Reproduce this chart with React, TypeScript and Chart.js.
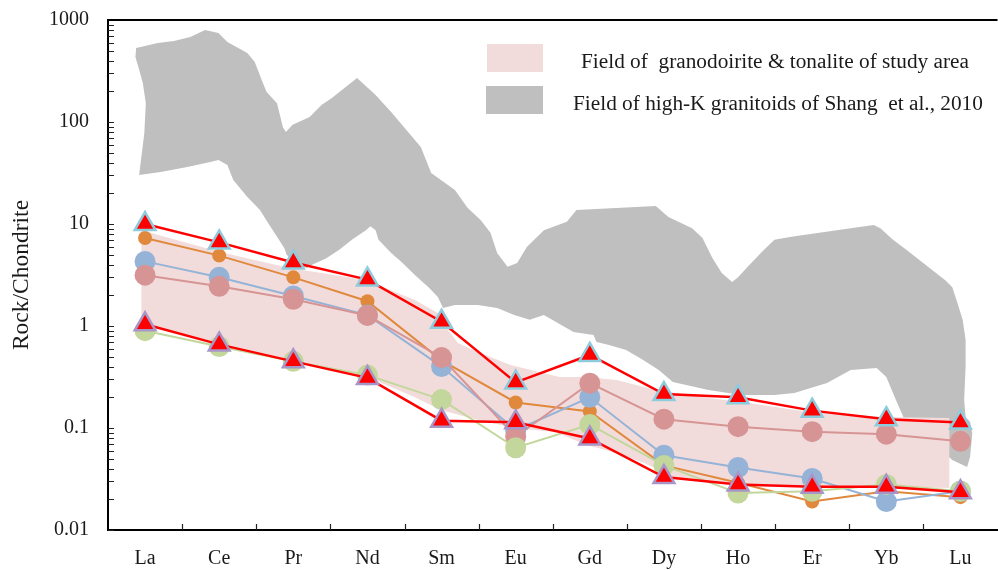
import React, { useEffect, useRef } from 'react';
import { Chart, registerables } from 'chart.js';

Chart.register(...registerables);

// REE spider diagram, chondrite-normalised
const elements = ['La', 'Ce', 'Pr', 'Nd', 'Sm', 'Eu', 'Gd', 'Dy', 'Ho', 'Er', 'Yb', 'Lu'];
const yTickValues = [0.01, 0.1, 1, 10, 100, 1000];
const yTickLabels = ['0.01', '0.1', '1', '10', '100', '1000'];
const legendLabels = [
  'Field of  granodoirite & tonalite of study area',
  'Field of high-K granitoids of Shang  et al., 2010',
];

// upper / lower envelope samples (triangles)
const upperSample = [10, 6.6, 4.2, 2.85, 1.1, 0.28, 0.52, 0.215, 0.2, 0.148, 0.122, 0.113];
const lowerSample = [1.04, 0.66, 0.45, 0.31, 0.118, 0.114, 0.079, 0.033, 0.028, 0.0265, 0.0265, 0.0235];
// individual samples (circles)
const orangeSample = [7.3, 4.9, 3.0, 1.75, 0.46, 0.178, 0.145, 0.043, 0.029, 0.019, 0.024, 0.021];
const blueSample = [4.3, 3.0, 1.97, 1.28, 0.4, 0.095, 0.2, 0.054, 0.041, 0.032, 0.019, 0.024];
const roseSample = [3.15, 2.45, 1.83, 1.27, 0.49, 0.082, 0.275, 0.122, 0.103, 0.092, 0.087, 0.074];
const greenSample = [0.9, 0.63, 0.45, 0.33, 0.19, 0.064, 0.108, 0.043, 0.023, 0.024, 0.028, 0.024];

// outline of the high-K granitoid field (element position, normalised value)
const highKFieldIdx = [
  -0.12, 0.17, 0.39, 0.61, 0.81, 0.99, 1.11, 1.38, 1.48, 1.59, 1.64, 1.78, 1.86, 1.9, 1.99, 2.22,
  2.38, 2.52, 2.86, 3.11, 3.32, 3.72, 3.86, 4.18, 4.35, 4.53, 4.66, 4.75, 4.89, 5.02, 5.15, 5.38,
  5.69, 5.82, 6.89, 7.06, 7.38, 7.52, 7.65, 7.78, 7.92, 8.0, 8.13, 8.32, 8.49, 8.72, 9.33, 9.83,
  9.92, 10.09, 10.27, 10.45, 10.8, 10.89, 10.96, 11.03, 11.07, 11.07, 11.05, 11.07, 11.13, 11.16,
  11.13, 11.09,
  10.89, 10.23, 10.13, 10.0, 9.87, 9.52, 9.2, 8.76, 8.49, 8.05, 7.6, 7.12, 6.93, 6.72, 6.49, 6.26,
  6.09, 6.05, 5.78, 5.38, 5.19, 4.98, 4.75, 4.49, 4.18, 4.02, 3.95, 3.82, 3.64, 3.46, 3.32, 3.15,
  3.11, 3.04, 2.98, 2.79, 2.62, 2.44, 2.26, 2.18, 1.99, 1.91, 1.88, 1.78, 1.66, 1.55, 1.38, 1.19,
  1.11, 0.99, 0.88, 0.57, 0.21, -0.08,
  -0.01, 0.01, -0.03, -0.09, -0.13, -0.12,
];
const highKFieldVal = [
  531, 596, 622, 681, 798, 747, 608, 474, 387, 241, 197, 153, 89, 80, 94, 112,
  147, 172, 270, 184, 125, 57, 31.6, 21.5, 14.4, 10.9, 8.2, 5.2, 3.8, 4.15, 5.96, 8.7,
  10.5, 13.7, 15.0, 11.7, 9.1, 7.3, 4.7, 3.3, 2.7, 3.0, 3.8, 5.3, 7.0, 7.5, 8.7, 9.8,
  9.1, 7.0, 5.6, 4.4, 2.8, 2.4, 1.68, 1.15, 0.73, 0.4, 0.188, 0.128, 0.115, 0.089,
  0.052, 0.0415,
  0.0485, 0.128, 0.188, 0.316, 0.387, 0.37, 0.276, 0.22, 0.211, 0.211, 0.236, 0.283, 0.37, 0.464, 0.582, 0.652,
  0.697, 0.817, 0.873, 1.28, 1.15, 1.28, 1.5, 1.61, 1.61, 1.5, 1.92, 2.41, 3.16, 4.24, 5.2, 7.0,
  8.7, 9.5, 8.7, 7.0, 5.6, 4.6, 4.0, 3.7, 4.4, 5.0, 5.8, 7.5, 10.2, 13.7, 18.4, 27,
  37.8, 42.4, 40.5, 36.2, 32.4, 30.2,
  78, 153, 241, 346, 434, 531,
];

// outline of the study-area granodiorite & tonalite field
const studyFieldIdx = [
  -0.05, 1.01, 1.95, 2.98, 3.64, 3.95, 4.02, 4.22, 4.49, 4.93, 5.59, 5.95, 6.36, 6.89, 7.6, 8.05,
  8.93, 9.99, 10.85, 10.85, 9.99, 8.93, 8.05, 7.16, 6.72, 6.22, 5.95, 5.55, 4.99, 4.49, 3.99, 3.64,
  3.19, 2.98, 2.0, 1.01, 0.0, -0.05, -0.05,
];
const studyFieldVal = [
  8.7, 5.3, 3.7, 2.83, 1.8, 1.34, 1.07, 0.68, 0.556, 0.415, 0.316, 0.316, 0.296, 0.236, 0.197, 0.18,
  0.144, 0.128, 0.125, 0.0258, 0.0264, 0.027, 0.0283, 0.0324, 0.046, 0.061, 0.068, 0.091, 0.1, 0.12, 0.15, 0.2,
  0.276, 0.33, 0.46, 0.68, 1.02, 1.07, 8.7,
];

const HIGHK_FILL = '#bfbfbf';
const STUDY_FILL = '#f2dcdb';
const SERIF = '"Liberation Serif", "Times New Roman", serif';

const toPoints = (xs: number[], ys: number[]) => xs.map((x, i) => ({ x, y: ys[i] }));
const toSeries = (ys: number[]) => ys.map((y, i) => ({ x: i, y }));

const fieldDataset = (label: string, xs: number[], ys: number[], color: string, order: number) => ({
  label,
  data: toPoints(xs, ys),
  showLine: true,
  fill: 'shape',
  backgroundColor: color,
  borderColor: 'rgba(0,0,0,0)',
  borderWidth: 0,
  pointRadius: 0,
  tension: 0,
  order,
});

const circleDataset = (label: string, ys: number[], color: string, radius: number, order: number) => ({
  label,
  data: toSeries(ys),
  showLine: true,
  borderColor: color,
  borderWidth: 2,
  backgroundColor: color,
  pointBackgroundColor: color,
  pointBorderColor: color,
  pointBorderWidth: 0,
  pointRadius: radius,
  pointStyle: 'circle',
  fill: false,
  tension: 0,
  order,
});

const triangleDataset = (label: string, ys: number[], edge: string, order: number) => ({
  label,
  data: toSeries(ys),
  showLine: true,
  borderColor: '#ff0000',
  borderWidth: 2.5,
  backgroundColor: '#ff0000',
  pointBackgroundColor: '#ff0000',
  pointBorderColor: edge,
  pointBorderWidth: 2.5,
  pointRadius: 12,
  pointStyle: 'triangle',
  fill: false,
  tension: 0,
  order,
});

// inward minor ticks, category separators and top frame line
const frameTicks = {
  id: 'frameTicks',
  afterDraw(chart: any) {
    const { ctx, chartArea: a, scales } = chart;
    const x = scales.x;
    const y = scales.y;
    ctx.save();
    ctx.strokeStyle = '#000';
    ctx.lineWidth = 2;
    ctx.beginPath();
    ctx.moveTo(a.left - 1, a.top);
    ctx.lineTo(a.right, a.top);
    ctx.stroke();
    ctx.lineWidth = 1.2;
    ctx.strokeStyle = '#222';
    ctx.beginPath();
    for (let i = 0; i < elements.length - 1; i++) {
      const px = Math.round(x.getPixelForValue(i + 0.5)) + 0.5;
      ctx.moveTo(px, a.bottom);
      ctx.lineTo(px, a.bottom - 6);
    }
    for (let e = -2; e <= 2; e++) {
      for (let m = 1; m <= 9; m++) {
        const py = Math.round(y.getPixelForValue(m * Math.pow(10, e))) + 0.5;
        ctx.moveTo(a.left, py);
        ctx.lineTo(a.left + 6, py);
      }
    }
    ctx.stroke();
    ctx.restore();
  },
};

// legend for the two shaded fields
const fieldLegend = {
  id: 'fieldLegend',
  afterDraw(chart: any) {
    const { ctx } = chart;
    ctx.save();
    ctx.fillStyle = STUDY_FILL;
    ctx.fillRect(487, 44, 56, 28);
    ctx.fillStyle = HIGHK_FILL;
    ctx.fillRect(486, 86, 57, 28);
    ctx.fillStyle = '#1a1a1a';
    ctx.font = `21.3px ${SERIF}`;
    ctx.textAlign = 'left';
    ctx.textBaseline = 'alphabetic';
    ctx.fillText(legendLabels[0], 581, 68);
    ctx.fillText(legendLabels[1], 573, 110);
    ctx.restore();
  },
};

export default function App() {
  const canvasRef = useRef<HTMLCanvasElement | null>(null);

  useEffect(() => {
    const canvas = canvasRef.current;
    if (!canvas) return;
    const chart = new Chart(canvas, {
      type: 'scatter',
      data: {
        datasets: [
          triangleDataset('upper', upperSample, '#8ecbdc', 1),
          triangleDataset('lower', lowerSample, '#a996c8', 2),
          circleDataset('green', greenSample, '#c3d69b', 10.5, 3),
          circleDataset('rose', roseSample, '#d69594', 10.5, 4),
          circleDataset('blue', blueSample, '#95b3d7', 10.5, 5),
          circleDataset('orange', orangeSample, '#e0883c', 7, 6),
          fieldDataset('study field', studyFieldIdx, studyFieldVal, STUDY_FILL, 9),
          fieldDataset('high-K field', highKFieldIdx, highKFieldVal, HIGHK_FILL, 10),
        ] as any,
      },
      options: {
        animation: false,
        responsive: false,
        devicePixelRatio: 1,
        layout: { padding: { top: 20, right: 5, left: 0, bottom: 0 } },
        plugins: {
          legend: { display: false },
          tooltip: { enabled: false },
        },
        scales: {
          x: {
            type: 'linear',
            min: -0.5,
            max: 11.5,
            afterFit: (scale: any) => {
              scale.height = 40;
              scale.paddingLeft = 0;
              scale.paddingRight = 0;
            },
            afterBuildTicks: (scale: any) => {
              scale.ticks = elements.map((_, i) => ({ value: i }));
            },
            grid: { display: false, drawTicks: false },
            border: { display: true, color: '#000', width: 2 },
            ticks: {
              autoSkip: false,
              maxRotation: 0,
              padding: 17,
              color: '#1a1a1a',
              font: { family: SERIF, size: 20 },
              callback: (v: any) => elements[Math.round(Number(v))] ?? '',
            },
          },
          y: {
            type: 'logarithmic',
            min: 0.01,
            max: 1000,
            afterFit: (scale: any) => {
              scale.width = 108;
              scale.paddingTop = 0;
              scale.paddingBottom = 0;
            },
            afterBuildTicks: (scale: any) => {
              scale.ticks = yTickValues.map((value) => ({ value }));
            },
            grid: { display: false, drawTicks: false },
            border: { display: true, color: '#000', width: 2 },
            ticks: {
              padding: 19,
              color: '#1a1a1a',
              font: { family: SERIF, size: 20 },
              callback: (v: any) => {
                const i = yTickValues.findIndex((t) => Math.abs(t - Number(v)) / t < 1e-6);
                return i >= 0 ? yTickLabels[i] : '';
              },
            },
            title: {
              display: true,
              text: 'Rock/Chondrite',
              color: '#1a1a1a',
              font: { family: SERIF, size: 23.5 },
              padding: { top: 8, bottom: 0 },
            },
          },
        },
      },
      plugins: [frameTicks, fieldLegend],
    });
    return () => chart.destroy();
  }, []);

  return (
    <div
      style={{
        position: 'absolute',
        left: 0,
        top: 0,
        width: 998,
        height: 570,
        overflow: 'hidden',
        background: '#fff',
      }}
    >
      <canvas ref={canvasRef} width={1012} height={570} style={{ display: 'block' }} />
    </div>
  );
}
